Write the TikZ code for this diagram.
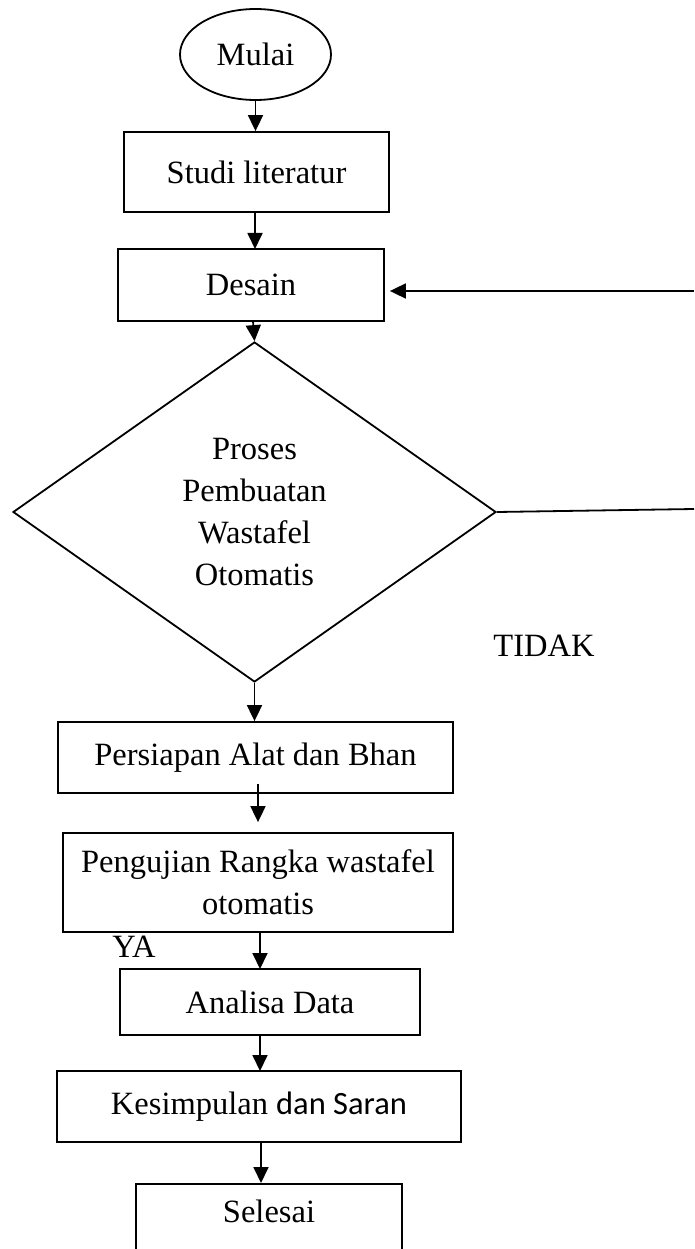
\documentclass[tikz,border=0pt]{standalone}
\usepackage{fontspec}
\setmainfont{Liberation Serif}
\newfontfamily\calibri{Carlito}
\usetikzlibrary{arrows.meta,shapes.geometric,calc}
\begin{document}
\begin{tikzpicture}[x=1pt,y=-1pt,
  every node/.style={font=\fontsize{32.5}{42}\selectfont, inner sep=0pt},
  line/.style={line width=1.8pt},
  arr/.style={line width=1.8pt,-{Triangle[length=16pt,width=15pt]}},
  box/.style={draw, line width=1.8pt, rectangle, align=center}]
\useasboundingbox (0,0) rectangle (694,1249);
\clip (0,0) rectangle (694,1249);
\node[draw, line width=1.8pt, ellipse, minimum width=151pt, minimum height=91pt] (mulai) at (255.5,54.5) {Mulai};
\node[box, minimum width=265pt, minimum height=80pt] (studi) at (256.5,172) {Studi literatur};
\node[box, minimum width=266pt, minimum height=72pt] (desain) at (251,285) {Desain};
\node[draw, line width=1.8pt, diamond, minimum width=483pt, minimum height=340pt, align=center] (dia) at (254.5,512) {Proses\\Pembuatan\\Wastafel\\Otomatis};
\node[box, minimum width=395pt, minimum height=71pt] (persiapan) at (255.5,757.5) {Persiapan Alat dan Bhan};
\node[box, minimum width=390pt, minimum height=99pt] (pengujian) at (258,882.5) {Pengujian Rangka wastafel\\otomatis};
\node[box, minimum width=300pt, minimum height=66pt] (analisa) at (270,1002) {Analisa Data};
\node[box, minimum width=404pt, minimum height=71pt] (kesimpulan) at (259,1106.5) {Kesimpulan {\calibri dan Saran}};
\node[box, minimum width=266pt, anchor=north, text height=39pt, text depth=51pt] (selesai) at (269,1183) {Selesai};
\node (tidak) at (544,646) {TIDAK};
\node (ya) at (134,947) {YA};
\coordinate (r1) at (694,509);
\coordinate (r2) at (694,291);
\draw[arr] (mulai.south) -- (mulai.south |- studi.north);
\draw[arr] (studi.south -| 255,0) -- (255,249);
\draw[arr] (253,321) -- (dia.north);
\draw[arr] (dia.south) -- (dia.south |- persiapan.north);
\draw[arr] ($(persiapan.south)+(2.5,-10)$) -- ($(pengujian.north)+(0,-10)$);
\draw[arr] (pengujian.south -| 260,0) -- (260,969);
\draw[arr] (analisa.south -| 260,0) -- (260,1071);
\draw[arr] (kesimpulan.south -| 261,0) -- (261,1183);
\draw[line] (dia.east) -- (r1);
\draw[arr, shorten >=5pt] (r2) -- (r2 -| desain.east);
\end{tikzpicture}
\end{document}
